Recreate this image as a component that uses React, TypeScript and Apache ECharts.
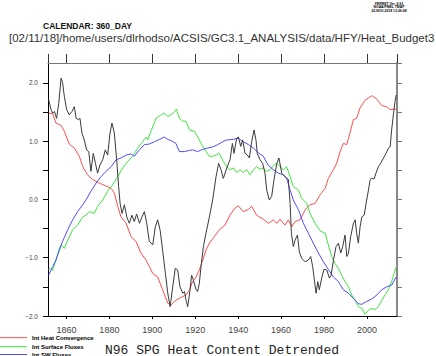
import React, { useEffect, useRef } from "react";
import * as echarts from "echarts";

// ---- data ----
const redYears = [1851.7,1853.6,1855.1,1857.5,1859.0,1861.3,1863.7,1866.0,1867.6,1869.9,1872.2,1875.3,1878.4,1880.8,1882.3,1883.9,1885.4,1887.8,1890.1,1892.4,1894.7,1897.1,1900.2,1902.5,1904.8,1907.2,1908.7,1911.0,1913.4,1915.7,1917.3,1918.8,1920.4,1921.9,1923.5,1925.0,1926.6,1928.9,1931.2,1933.9,1936.2,1938.5,1940.1,1942.4,1944.8,1946.3,1948.6,1951.7,1954.1,1956.4,1958.0,1959.5,1961.8,1963.4,1964.9,1966.5,1968.8,1971.2,1973.5,1975.8,1978.2,1980.5,1982.0,1984.4,1985.9,1987.5,1989.0,1990.6,1992.1,1993.7,1995.2,1996.8,1999.1,2002.2,2004.6,2006.9,2009.2,2010.8,2013.6];
const redValues = [1.48,1.47,1.31,1.27,1.17,0.95,0.88,0.74,0.56,0.42,0.34,0.28,0.23,0.19,0.11,-0.12,-0.30,-0.41,-0.64,-0.72,-0.92,-1.04,-1.27,-1.33,-1.55,-1.78,-1.81,-1.73,-1.68,-1.64,-1.55,-1.41,-1.33,-1.21,-1.04,-0.87,-0.75,-0.64,-0.52,-0.44,-0.27,-0.15,-0.11,-0.21,-0.17,-0.12,-0.27,-0.34,-0.41,-0.35,-0.41,-0.34,-0.44,-0.35,-0.47,-0.38,-0.35,-0.18,-0.09,-0.07,0.08,0.19,0.36,0.51,0.62,0.82,0.96,0.94,1.14,1.37,1.39,1.57,1.70,1.78,1.72,1.61,1.59,1.54,1.55];

const greenYears = [1851.7,1852.5,1853.5,1855.1,1856.7,1857.5,1859.0,1860.6,1862.9,1865.2,1867.6,1869.1,1870.7,1873.0,1874.5,1876.9,1879.2,1881.5,1883.9,1886.2,1888.5,1890.9,1893.2,1895.5,1897.1,1897.8,1899.4,1901.7,1904.1,1905.6,1907.2,1909.5,1911.2,1912.6,1914.2,1915.7,1917.3,1919.6,1921.9,1923.5,1925.0,1926.6,1928.1,1929.7,1931.2,1933.1,1934.7,1936.2,1937.8,1939.3,1940.9,1942.4,1944.0,1945.5,1947.1,1948.6,1950.2,1951.7,1953.3,1954.9,1956.4,1958.0,1959.5,1961.1,1962.6,1964.2,1965.7,1968.1,1969.6,1972.0,1973.5,1975.8,1978.2,1980.5,1982.0,1983.6,1985.1,1986.7,1988.2,1989.8,1991.4,1992.9,1994.5,1996.0,1997.6,1999.1,2000.7,2002.2,2003.8,2005.3,2006.9,2008.4,2010.0,2011.5,2012.6,2013.6];
const greenValues = [-1.21,-1.18,-1.22,-1.04,-0.84,-0.78,-0.84,-0.70,-0.52,-0.44,-0.30,-0.27,-0.21,-0.24,-0.12,-0.01,0.14,0.25,0.39,0.54,0.65,0.74,0.88,0.99,1.07,1.02,1.17,1.39,1.45,1.48,1.42,1.47,1.55,1.39,1.34,1.34,1.19,1.17,1.02,0.91,0.82,0.74,0.74,0.76,0.79,0.65,0.56,0.51,0.54,0.46,0.51,0.46,0.51,0.42,0.51,0.56,0.52,0.54,0.48,0.51,0.58,0.62,0.56,0.51,0.56,0.39,0.22,0.16,0.02,-0.07,-0.24,-0.41,-0.54,-0.58,-0.78,-0.98,-1.10,-1.18,-1.30,-1.41,-1.50,-1.64,-1.73,-1.84,-1.87,-1.97,-1.90,-1.87,-1.89,-1.84,-1.73,-1.64,-1.55,-1.41,-1.27,-1.16];

const blueYears = [1851.7,1853.6,1855.1,1856.7,1858.2,1860.6,1862.9,1865.2,1867.6,1869.1,1871.4,1873.8,1876.1,1878.4,1880.8,1883.1,1885.4,1887.8,1890.1,1891.6,1894.0,1896.3,1898.6,1901.0,1903.3,1905.6,1907.2,1908.7,1911.0,1912.6,1914.9,1917.3,1918.8,1921.1,1923.5,1925.8,1928.1,1930.5,1932.8,1934.7,1937.8,1940.1,1942.4,1944.8,1947.1,1949.4,1951.7,1954.1,1956.4,1958.7,1961.1,1962.6,1964.2,1965.7,1968.1,1970.4,1972.7,1975.0,1977.4,1979.7,1982.0,1984.4,1986.7,1989.0,1991.4,1993.7,1996.0,1997.6,1999.9,2002.2,2004.6,2006.9,2009.2,2011.5,2013.6];
const blueValues = [-1.30,-1.15,-1.04,-0.87,-0.72,-0.52,-0.35,-0.21,-0.09,-0.01,0.14,0.28,0.39,0.48,0.56,0.68,0.71,0.76,0.78,0.74,0.85,0.94,0.95,0.99,1.03,1.07,1.03,1.01,0.96,0.82,0.82,0.84,0.85,0.82,0.86,0.88,0.90,0.94,0.99,1.02,1.03,1.05,0.99,0.94,0.88,0.80,0.74,0.58,0.51,0.45,0.42,0.36,0.16,-0.01,-0.18,-0.41,-0.58,-0.75,-0.92,-1.07,-1.20,-1.33,-1.41,-1.55,-1.61,-1.70,-1.79,-1.80,-1.75,-1.71,-1.64,-1.55,-1.50,-1.47,-1.33];

const blackYears = [1851.7,1852.8,1853.6,1854.4,1855.4,1856.4,1857.5,1858.2,1859.0,1860.1,1861.3,1862.6,1863.7,1864.5,1865.5,1866.3,1867.2,1868.3,1869.4,1870.4,1871.4,1872.5,1873.5,1874.5,1875.6,1876.9,1878.1,1879.2,1880.3,1881.2,1882.3,1883.4,1884.3,1885.0,1885.9,1887.0,1888.1,1889.3,1890.5,1891.6,1892.7,1894.0,1895.2,1896.3,1897.4,1898.6,1900.2,1901.4,1902.5,1903.6,1904.8,1906.1,1907.2,1908.3,1909.5,1910.7,1911.8,1912.9,1914.2,1915.0,1915.7,1916.5,1917.6,1918.3,1919.1,1920.4,1921.1,1921.9,1922.7,1923.8,1925.0,1926.6,1928.1,1929.7,1930.9,1932.0,1933.1,1934.7,1936.2,1937.3,1938.1,1939.3,1940.1,1941.2,1942.1,1943.2,1944.3,1945.2,1946.3,1947.4,1948.3,1948.9,1950.2,1951.4,1952.5,1953.3,1954.5,1955.6,1956.7,1958.0,1959.0,1960.3,1961.8,1963.4,1964.2,1964.8,1965.7,1966.5,1967.6,1968.5,1969.6,1971.2,1972.7,1973.8,1974.7,1975.5,1976.3,1977.1,1977.8,1978.9,1980.0,1981.3,1982.5,1983.3,1984.4,1985.6,1986.7,1987.8,1988.7,1989.8,1990.6,1991.4,1992.4,1993.7,1994.5,1995.2,1996.0,1996.8,1997.6,1998.7,1999.6,2000.7,2001.5,2002.2,2003.3,2004.2,2005.3,2006.4,2007.7,2008.9,2010.0,2010.8,2011.5,2012.3,2013.1,2013.6];
const blackValues = [1.71,1.54,1.48,1.51,1.39,1.65,2.08,2.00,1.77,1.54,1.45,1.51,1.59,1.39,1.37,1.39,1.14,1.02,0.85,0.82,0.48,0.79,0.62,0.45,0.59,0.68,0.85,0.76,1.14,1.31,1.14,0.68,0.22,-0.07,-0.24,-0.09,-0.30,-0.41,-0.27,-0.38,-0.25,-0.41,-0.30,-0.21,-0.41,-0.72,-0.78,-0.47,-0.35,-0.52,-0.87,-1.27,-1.61,-1.84,-1.50,-1.18,-1.21,-1.50,-1.61,-1.58,-1.73,-1.84,-1.55,-1.30,-1.38,-1.55,-1.58,-1.44,-1.15,-0.81,-0.58,-0.30,-0.01,0.39,0.62,0.51,0.36,0.54,0.68,0.96,0.79,1.05,1.07,0.91,1.02,0.79,0.76,0.71,0.99,1.19,1.02,0.79,0.68,0.62,0.45,0.16,-0.01,0.05,0.34,0.62,0.71,0.45,0.39,0.34,-0.07,-0.58,-0.81,-0.70,-0.61,-0.90,-1.01,-1.07,-1.04,-0.98,-1.15,-1.38,-1.61,-1.41,-1.55,-1.35,-1.20,-1.21,-1.35,-1.30,-1.04,-0.81,-0.75,-0.92,-0.81,-0.61,-0.98,-0.92,-0.64,-0.41,-0.35,-0.58,-0.75,-0.47,-0.30,-0.27,-0.07,0.16,0.34,0.36,0.35,0.45,0.56,0.62,0.71,0.79,0.88,0.90,1.19,1.45,1.68,1.79];

const seriesNames = ["Int Heat Convergence", "Int Surface Fluxes", "Int SW Fluxes", "Heat Content"];
const seriesColors = ["#ff4d4d", "#3de63d", "#4d4dff", "#3a3a3a"];
const xMin = 1851.4;
const xMax = 2014.0;
const yMin = -2.0;
const yMax = 2.34;

const titleText = "N96 SPG Heat Content Detrended";
const calendarText = "CALENDAR: 360_DAY";
const pathText = "[02/11/18]/home/users/dlrhodso/ACSIS/GC3.1_ANALYSIS/data/HFY/Heat_Budget3";
const stampLines = ["FERRET Ver. 6.93", "NOAA/PMEL TMAP", "02-NOV-2018 13:26:08"];

const zip = (xs: number[], ys: number[]) => xs.map((x, i) => [x, ys[i]]);

export default function App() {
  const ref = useRef<HTMLDivElement>(null);
  useEffect(() => {
    if (!ref.current) return;
    const chart = echarts.init(ref.current, null, { renderer: "svg" });
    const font = "Liberation Sans, Arial, sans-serif";
    const yFmt = (v: number) => {
      if (Math.abs(v - Math.round(v)) > 1e-6) return "";
      const r = Math.round(v);
      return r < 0 ? "\u2212" + Math.abs(r).toFixed(1) : r.toFixed(1);
    };
    const xFmt = (v: number) => (Math.abs(v % 20) < 1e-6 ? String(Math.round(v)) : "");
    const mkLine = (name: string, data: number[][], color: string) => ({
      name,
      type: "line",
      data,
      xAxisIndex: 0,
      yAxisIndex: 0,
      showSymbol: false,
      symbol: "none",
      lineStyle: { color, width: 1 },
      itemStyle: { color },
      z: 3,
    });
    const legendRows = [337.7, 346.7, 354.5];
    const legendGraphics: any[] = [];
    for (let i = 0; i < 3; i++) {
      legendGraphics.push({
        type: "line",
        shape: { x1: 0, y1: legendRows[i], x2: 27, y2: legendRows[i] },
        style: { stroke: seriesColors[i], lineWidth: 1 },
      });
      legendGraphics.push({
        type: "text", x: 32, y: legendRows[i],
        style: { text: seriesNames[i], fill: "#000", font: "bold 6px " + font, align: "left", verticalAlign: "middle" },
      });
    }
    chart.setOption({
      animation: false,
      backgroundColor: "#ffffff",
      grid: { left: 48, right: 39, top: 63, bottom: 40, containLabel: false, outerBoundsMode: "none" },
      xAxis: [
        {
          type: "value", position: "bottom", min: xMin, max: xMax, splitNumber: 8, minInterval: 20, maxInterval: 20,
          axisLine: { show: true, onZero: false, lineStyle: { color: "#000", width: 1 } },
          axisTick: { show: true, inside: false, length: 3, lineStyle: { color: "#000" } },
          axisLabel: { formatter: xFmt, fontSize: 9, color: "#444", margin: 9, fontFamily: font, showMinLabel: false, showMaxLabel: false },
          splitLine: { show: false },
        },
        {
          type: "value", position: "top", min: xMin, max: xMax, splitNumber: 8, minInterval: 20, maxInterval: 20,
          axisLine: { show: true, onZero: false, lineStyle: { color: "#777", width: 1 } },
          axisTick: { show: true, inside: false, length: 9, lineStyle: { color: "#333" } },
          axisLabel: { show: false },
          splitLine: { show: false },
        },
      ],
      yAxis: [
        {
          type: "value", position: "left", min: yMin, max: yMax, interval: 0.5,
          axisLine: { show: true, onZero: false, lineStyle: { color: "#000", width: 1 } },
          axisTick: { show: true, inside: false, length: 5, lineStyle: { color: "#000" } },
          axisLabel: { formatter: yFmt, fontSize: 6.5, color: "#444", margin: 10, fontFamily: font, showMaxLabel: false },
          splitLine: { show: false },
        },
        {
          type: "value", position: "right", min: yMin, max: yMax, interval: 0.5,
          axisLine: { show: true, onZero: false, lineStyle: { color: "#888", width: 2 } },
          axisTick: { show: true, inside: false, length: 5, lineStyle: { color: "#777" } },
          axisLabel: { show: false },
          splitLine: { show: false },
        },
      ],
      series: [
        mkLine(seriesNames[0], zip(redYears, redValues), seriesColors[0]),
        mkLine(seriesNames[1], zip(greenYears, greenValues), seriesColors[1]),
        mkLine(seriesNames[2], zip(blueYears, blueValues), seriesColors[2]),
        mkLine(seriesNames[3], zip(blackYears, blackValues), seriesColors[3]),
      ],
      graphic: [
        ...stampLines.map((t, i) => ({
          type: "text", x: 389, y: 4 + i * 3.4,
          style: { text: t, fill: "#000", font: "bold 3.4px " + font, align: "center", verticalAlign: "middle" },
        })),
        {
          type: "text", x: 43, y: 26,
          style: { text: calendarText, fill: "#111", font: "bold 8.5px " + font, align: "left", verticalAlign: "middle" },
        },
        {
          type: "text", x: 9, y: 37.5,
          style: { text: pathText, fill: "#333", font: "11.5px " + font, align: "left", verticalAlign: "middle" },
        },
        ...legendGraphics,
        {
          type: "text", x: 222, y: 350,
          style: { text: titleText, fill: "#222", font: "13px 'Liberation Mono', 'DejaVu Sans Mono', monospace", lineHeight: 11, align: "center", verticalAlign: "middle" },
        },
      ],
    });
    return () => chart.dispose();
  }, []);
  return <div ref={ref} style={{ position: "fixed", left: 0, top: 0, width: 436, height: 356 }} />;
}
